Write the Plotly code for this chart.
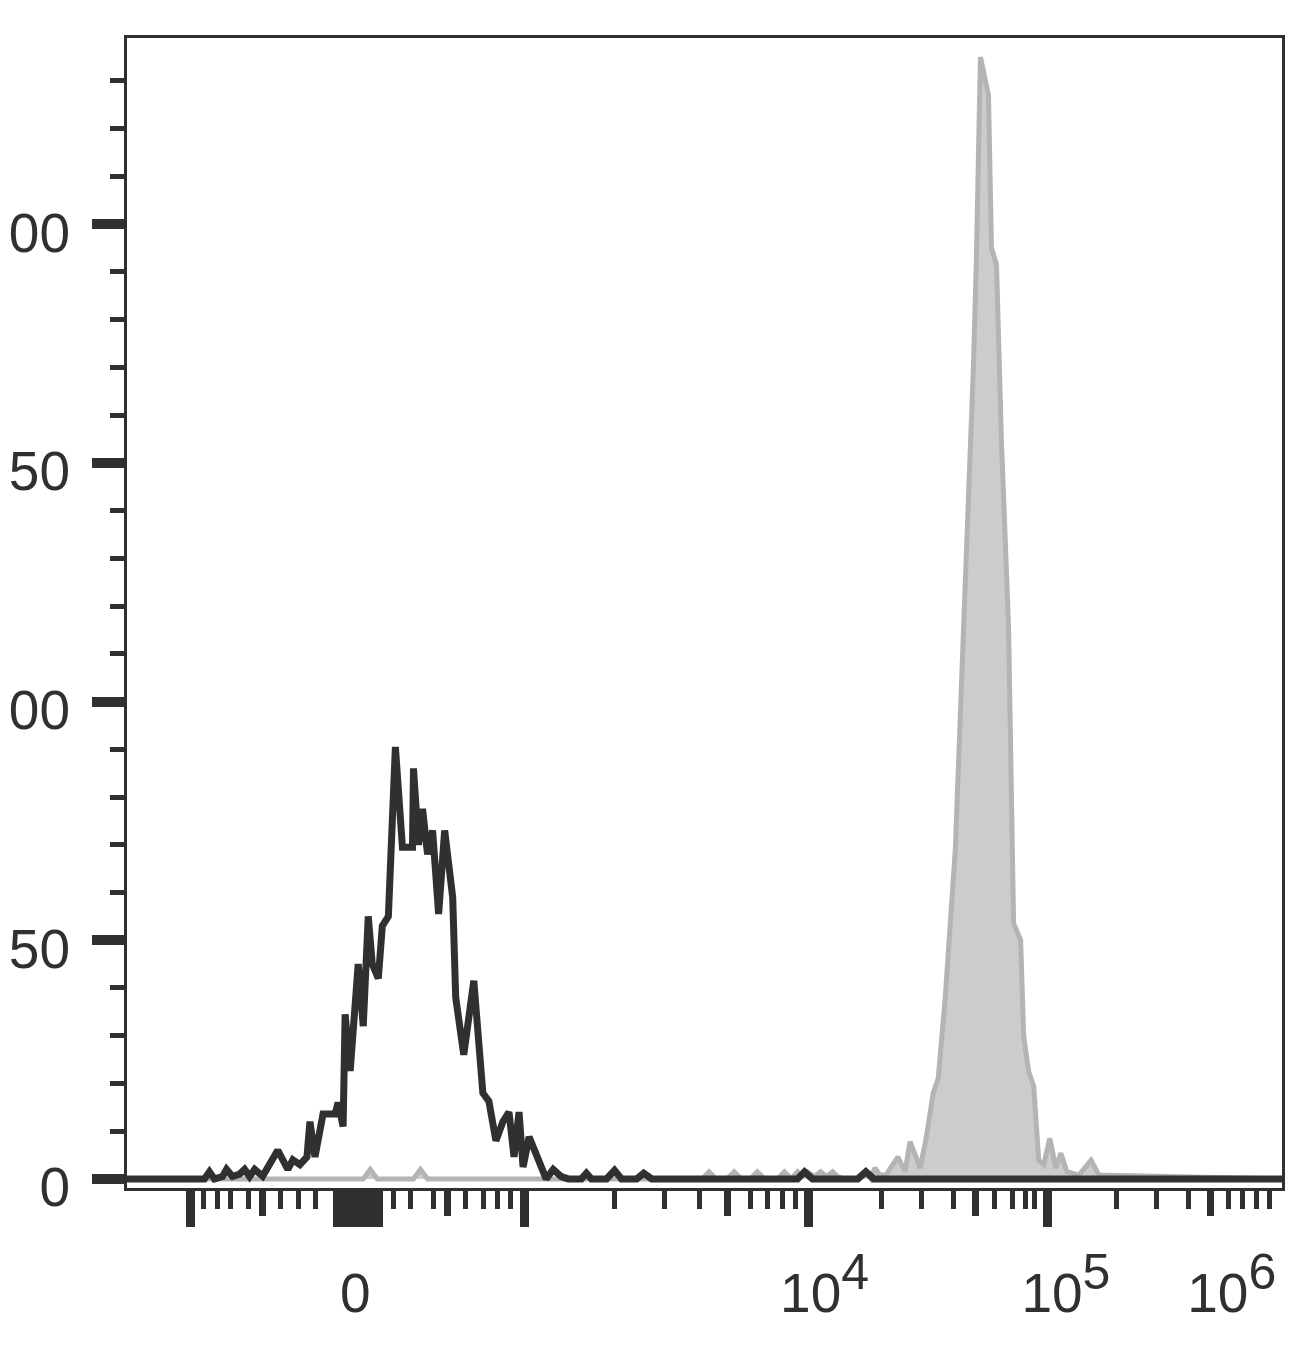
import plotly.graph_objects as go

# histogram traces, x in display channel units of the biexponential axis
black_x = [123, 200, 205, 210, 218, 222, 228, 235, 240, 245, 250, 258, 273, 283, 288, 295, 302, 305, 310,
           318, 330, 333, 338, 340, 345, 353, 358, 363, 367, 373, 377, 383, 390, 397, 407, 408,
           413, 417, 422, 427, 433, 439, 447, 450, 458, 468, 477, 483, 490, 497, 503, 508,
           513, 517, 523, 532, 540, 547, 555, 562, 575, 580, 585, 600, 608, 615, 630, 637, 645,
           790, 797, 805, 850, 858, 866, 1272]
black_y = [0, 0, 1.5, 0, 0.5, 2, 0.5, 1, 2, 0.5, 2, 0.6, 6, 2, 4, 3, 4.6, 12, 4.6,
           13.6, 13.6, 16, 11, 34.5, 22.6, 45, 32, 55, 45, 42, 53, 55, 90.5, 69.5, 69.5, 86,
           70, 77.5, 68, 73, 55.5, 73, 59, 38, 26, 41.5, 18, 16.3, 8, 12, 14, 4.6,
           14, 2.5, 8.8, 4.6, 0, 2, 0.5, 0, 0, 1.2, 0, 0, 1.8, 0, 0, 1.2, 0,
           0, 1.5, 0, 0, 1.5, 0, 0]

grey_x = [123, 358, 365, 372, 408, 415, 422, 695, 702, 709, 720, 727, 734, 743, 750, 757, 770, 777,
          784, 790, 794, 800, 807, 813, 819, 825, 830, 836, 850, 857, 863, 867, 872, 878,
          890, 897, 902, 912, 918, 925, 930, 937, 947, 952, 958, 965, 968, 972, 980, 983,
          988, 993, 1000, 1005, 1012, 1015, 1020, 1025, 1030, 1035, 1041, 1047, 1052, 1058,
          1070, 1082, 1090, 1272]
grey_y = [0, 0, 2, 0, 0, 2, 0, 0, 1.5, 0, 0, 1.5, 0, 0, 1.5, 0, 0, 1.5,
          0, 1.5, 0.5, 1.5, 0.5, 1.5, 0.5, 1.5, 0.5, 0, 0, 1.5, 0, 2.3, 0.8, 0.8,
          4.6, 1.5, 7.8, 2.3, 8.5, 18, 21, 38, 69, 100, 131, 170, 193, 235, 227, 195,
          191.5, 154, 115.6, 53.5, 50, 30, 22.5, 19.4, 3.9, 3, 8.5, 2.3, 5.4, 1.5,
          0.8, 3.9, 0.8, 0]

# axis ticks
x_major = [186, 332, 341, 350, 359, 368, 373, 518, 801, 1039, 1274]
x_medium = [258, 442, 720, 967, 1201]
x_minor = [199, 213, 226, 244, 276, 294, 311, 388, 405, 428, 460, 478, 492, 505,
           608, 658, 693, 743, 760, 775, 788, 874, 913, 945, 986, 1004, 1017, 1026,
           1107, 1147, 1179, 1219, 1233, 1247, 1260]
x_label_pos = [350, 817, 1057, 1222]
sup = '<sup><span style="font-size:50px">{}</span></sup>'
x_label_text = ['0', '10' + sup.format(4), '10' + sup.format(5), '10' + sup.format(6)]

y_major = [0, 50, 100, 150, 200]
y_minor = [v for v in range(10, 240, 10) if v % 50]
y_label_text = ['0', '50', '100', '150', '200']

ink = '#303030'
font = dict(family='Liberation Sans, Arial', size=55, color=ink)
X_RANGE = [123, 1272]
Y_RANGE = [-1.9, 239]
LABEL_SHIFT = 1.7  # y labels sit a little below their ticks

fig = go.Figure()
fig.add_trace(go.Scatter(x=grey_x, y=grey_y, mode='lines', fill='tozeroy',
                         fillcolor='#cccccc', line=dict(color='#b4b4b4', width=5)))
fig.add_trace(go.Scatter(x=black_x, y=black_y, mode='lines',
                         line=dict(color=ink, width=7)))
# helper traces so the overlay axes get drawn
fig.add_trace(go.Scatter(x=[None], y=[None], xaxis='x2', yaxis='y'))
fig.add_trace(go.Scatter(x=[None], y=[None], xaxis='x3', yaxis='y2'))

fig.update_layout(
    width=1304, height=1348,
    margin=dict(l=119, r=30, t=30, b=168),
    paper_bgcolor='white', plot_bgcolor='white',
    showlegend=False,
    font=font,
    xaxis=dict(range=X_RANGE, showgrid=False, zeroline=False, automargin=False,
               showline=True, linecolor=ink, linewidth=3, mirror=True,
               tickmode='array', tickvals=x_major, ticks='outside',
               ticklen=36, tickwidth=9, tickcolor=ink, showticklabels=False,
               minor=dict(tickmode='array', tickvals=x_minor, ticks='outside',
                          ticklen=18, tickwidth=5, tickcolor=ink)),
    xaxis2=dict(range=X_RANGE, overlaying='x', showgrid=False, zeroline=False,
                automargin=False, showline=False, tickmode='array', tickvals=x_medium,
                ticks='outside', ticklen=27, tickwidth=7, tickcolor=ink,
                showticklabels=False),
    xaxis3=dict(range=X_RANGE, overlaying='x', showgrid=False, zeroline=False,
                automargin=False, showline=False, tickmode='array', tickvals=x_label_pos,
                ticktext=x_label_text, ticks='', ticklabelstandoff=68),
    yaxis=dict(range=Y_RANGE, showgrid=False, zeroline=False, automargin=False,
               showline=True, linecolor=ink, linewidth=3, mirror=True,
               tickmode='array', tickvals=y_major, ticks='outside',
               ticklen=32, tickwidth=10, tickcolor=ink, showticklabels=False,
               minor=dict(tickmode='array', tickvals=y_minor, ticks='outside',
                          ticklen=14, tickwidth=5, tickcolor=ink)),
    yaxis2=dict(range=[Y_RANGE[0] + LABEL_SHIFT, Y_RANGE[1] + LABEL_SHIFT],
                overlaying='y', side='left', showgrid=False,
                zeroline=False, automargin=False, showline=False, tickmode='array',
                tickvals=y_major, ticktext=y_label_text,
                ticks='', ticklabelstandoff=56),
)

fig.write_html('out.html')
